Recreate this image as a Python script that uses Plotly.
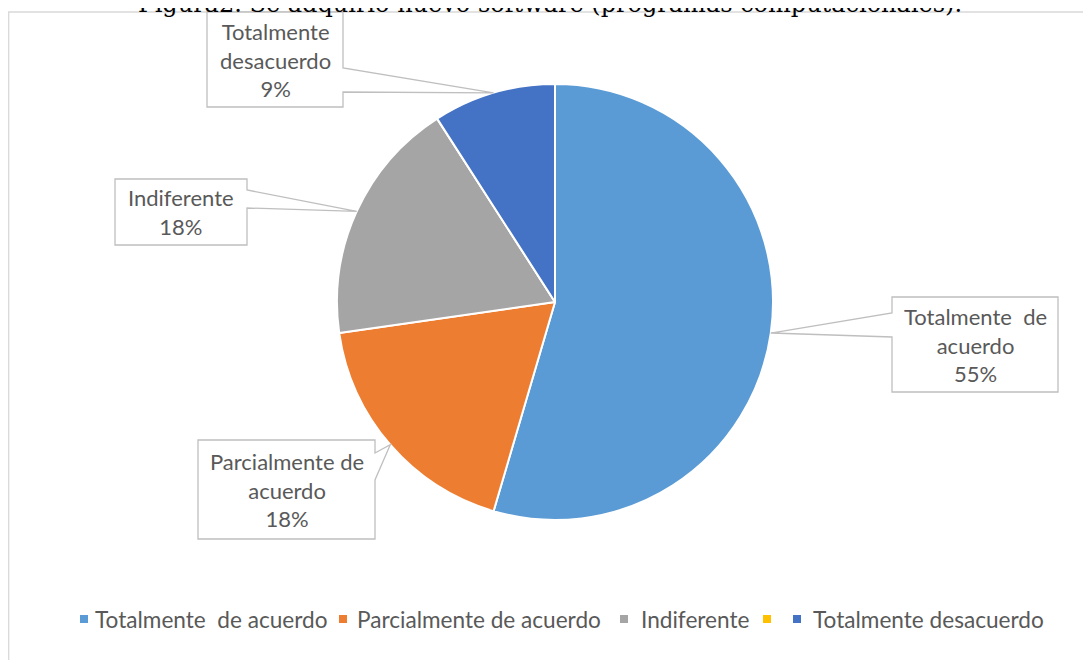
import math
import plotly.graph_objects as go

# page is rendered with an 8px body margin, so the figure is shrunk and offset
OFF = 8
W, H = 1091 - OFF, 660 - OFF

# ---- data ----
categories = ["Totalmente  de acuerdo", "Parcialmente de acuerdo", "Indiferente", " ", "Totalmente desacuerdo"]
values = [6, 2, 2, 0, 1]
colors = ["#5B9BD5", "#ED7D31", "#A5A5A5", "#FFC000", "#4472C4"]
label_text = ["Totalmente  de<br>acuerdo", "Parcialmente de<br>acuerdo", "Indiferente", "", "Totalmente<br>desacuerdo"]
legend_text = ["Totalmente  de acuerdo", "Parcialmente de acuerdo", "Indiferente", "", "Totalmente desacuerdo"]
title_text = "Figura2. Se adquirió nuevo software (programas computacionales)."

# ---- layout constants (page pixels) ----
CX, CY, R = 555, 302, 218
TXT = "#595959"
LINE = "#BFBFBF"
FONT = "Lato"
FS = 22
LEG_Y = 619
LEG_SQ_X = [84, 343, 624, 767, 797]
LEG_TX_X = [94, 356, 640, 777, 812]

def px(x):
    return (x - OFF) / W

def py(y):
    return 1 - (y - OFF) / H

total = sum(values)

def slice_edge(i):
    start = sum(values[:i]) / total
    mid = start + values[i] / total / 2
    a = 2 * math.pi * mid
    return CX + R * math.sin(a), CY - R * math.cos(a)

fig = go.Figure(go.Pie(
    labels=categories,
    values=values,
    sort=False,
    direction="clockwise",
    rotation=0,
    marker=dict(colors=colors, line=dict(color="white", width=2)),
    textinfo="none",
    hoverinfo="label+percent",
    showlegend=False,
    domain=dict(x=[px(CX - R), px(CX + R)], y=[py(CY + R), py(CY - R)]),
))

# callout boxes: (index, box x0, y0, x1, y1, side, base a, base b)
callouts = [
    (0, 892, 297, 1058, 392, "left", 313, 337),
    (1, 198, 440, 375, 539, "right", 453, 480),
    (2, 115, 179, 247, 245, "right", 190, 208),
    (4, 207, 12, 343, 107, "right", 68, 92),
]

shapes = []
annotations = []
for idx, x0, y0, x1, y1, side, a, b in callouts:
    tx, ty = slice_edge(idx)
    if side == "right":
        pts = [(x0, y0), (x1, y0), (x1, a), (tx, ty), (x1, b), (x1, y1), (x0, y1)]
    else:
        pts = [(x0, y0), (x1, y0), (x1, y1), (x0, y1), (x0, b), (tx, ty), (x0, a)]
    path = "M " + " L ".join(f"{px(x):.5f},{py(y):.5f}" for x, y in pts) + " Z"
    shapes.append(dict(type="path", xref="paper", yref="paper", path=path,
                       fillcolor="white", line=dict(color=LINE, width=1.3), layer="above"))
    pct = round(100 * values[idx] / total)
    annotations.append(dict(
        x=px((x0 + x1) / 2), y=py((y0 + y1) / 2), xref="paper", yref="paper",
        text=f"{label_text[idx]}<br>{pct}%", showarrow=False,
        font=dict(family=FONT, size=FS, color=TXT), align="center",
        xanchor="center", yanchor="middle",
    ))

# chart border
shapes.append(dict(type="rect", xref="paper", yref="paper",
                   x0=px(8.7), y0=py(700), x1=px(1120), y1=py(12),
                   line=dict(color="#D9D9D9", width=1.3), fillcolor="rgba(0,0,0,0)", layer="below"))

# title (cut off by the top of the page, as in the reference)
annotations.append(dict(
    x=px(550), y=py(20), xref="paper", yref="paper", text=title_text, showarrow=False,
    font=dict(family="DejaVu Serif", size=24, color="#000000"),
    xanchor="center", yanchor="bottom",
))

# legend row
for c, t, sx, tx in zip(colors, legend_text, LEG_SQ_X, LEG_TX_X):
    shapes.append(dict(type="rect", xref="paper", yref="paper",
                       x0=px(sx - 4), x1=px(sx + 4), y0=py(LEG_Y + 4), y1=py(LEG_Y - 4),
                       fillcolor=c, line=dict(width=0)))
    if t:
        annotations.append(dict(
            x=px(tx), y=py(LEG_Y), xref="paper", yref="paper", text=t, showarrow=False,
            font=dict(family=FONT, size=22.6, color=TXT), xanchor="left", yanchor="middle",
            xshift=-1,
        ))

fig.update_layout(
    width=W, height=H,
    margin=dict(l=0, r=0, t=0, b=0),
    paper_bgcolor="white",
    plot_bgcolor="white",
    shapes=shapes,
    annotations=annotations,
    showlegend=False,
)

fig.write_html("out.html")
